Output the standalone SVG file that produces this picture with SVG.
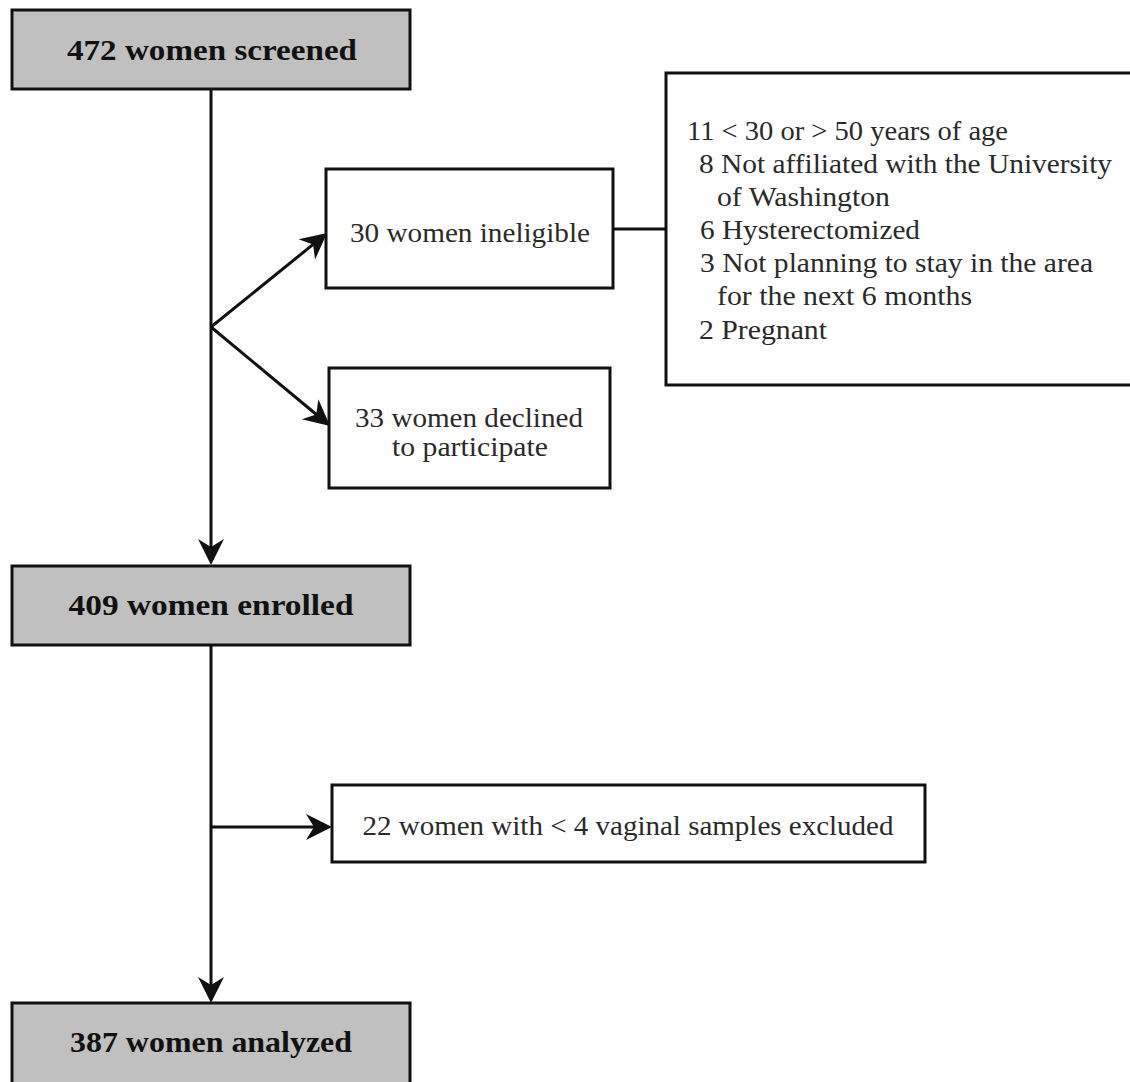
<svg xmlns="http://www.w3.org/2000/svg" width="1130" height="1082" viewBox="0 0 1130 1082">
<style>
.gray{fill:#c0c0c0;stroke:#111;stroke-width:3}
.white{fill:#fff;stroke:#111;stroke-width:3}
.hdr{font-family:"Liberation Serif","Times New Roman",serif;font-weight:bold;font-size:29px;fill:#111;text-anchor:middle}
.txt{font-family:"Liberation Serif","Times New Roman",serif;font-size:27px;fill:#2a2a2a}
.mid{text-anchor:middle}
.conn{stroke:#111;stroke-width:3;fill:none}
</style>
<defs>
<marker id="arr" markerUnits="userSpaceOnUse" viewBox="-2 -15 30 30" markerWidth="30" markerHeight="30" refX="16" refY="0" orient="auto">
<path d="M26,0 L0,-13 L8,0 L0,13 Z" fill="#111"/>
</marker>
</defs>
<rect width="1130" height="1082" fill="#fff"/>
<g id="connectors">
<line class="conn" x1="211" y1="89" x2="211" y2="555" marker-end="url(#arr)"/>
<line class="conn" x1="211" y1="327" x2="319.3" y2="239.4" marker-end="url(#arr)"/>
<line class="conn" x1="211" y1="327" x2="322.4" y2="419.5" marker-end="url(#arr)"/>
<line class="conn" x1="613" y1="229" x2="666" y2="229"/>
<line class="conn" x1="211" y1="645" x2="211" y2="993" marker-end="url(#arr)"/>
<line class="conn" x1="211" y1="827" x2="322" y2="827" marker-end="url(#arr)"/>
</g>
<g id="screened">
<rect class="gray" x="12" y="10" width="398" height="79"/>
<text class="hdr" x="212" y="60" textLength="290" lengthAdjust="spacingAndGlyphs">472 women screened</text>
</g>
<g id="ineligible">
<rect class="white" x="326" y="169" width="287" height="119"/>
<text class="txt mid" x="470" y="242" textLength="240" lengthAdjust="spacingAndGlyphs">30 women ineligible</text>
</g>
<g id="reasons">
<rect class="white" x="666" y="73" width="480" height="312"/>
<text class="txt" x="687" y="140" textLength="321" lengthAdjust="spacingAndGlyphs">11 &lt; 30 or &gt; 50 years of age</text>
<text class="txt" x="699" y="173" textLength="413" lengthAdjust="spacingAndGlyphs">8 Not affiliated with the University</text>
<text class="txt" x="717" y="206" textLength="173" lengthAdjust="spacingAndGlyphs">of Washington</text>
<text class="txt" x="700" y="239" textLength="220" lengthAdjust="spacingAndGlyphs">6 Hysterectomized</text>
<text class="txt" x="700" y="272" textLength="393" lengthAdjust="spacingAndGlyphs">3 Not planning to stay in the area</text>
<text class="txt" x="717" y="305" textLength="255" lengthAdjust="spacingAndGlyphs">for the next 6 months</text>
<text class="txt" x="699" y="339" textLength="128" lengthAdjust="spacingAndGlyphs">2 Pregnant</text>
</g>
<g id="declined">
<rect class="white" x="329" y="368" width="281" height="120"/>
<text class="txt mid" x="469" y="427" textLength="228" lengthAdjust="spacingAndGlyphs">33 women declined</text>
<text class="txt mid" x="470" y="456" textLength="156" lengthAdjust="spacingAndGlyphs">to participate</text>
</g>
<g id="enrolled">
<rect class="gray" x="12" y="566" width="398" height="79"/>
<text class="hdr" x="211" y="615" textLength="285" lengthAdjust="spacingAndGlyphs">409 women enrolled</text>
</g>
<g id="excluded">
<rect class="white" x="332" y="785" width="593" height="77"/>
<text class="txt mid" x="628" y="835" textLength="531" lengthAdjust="spacingAndGlyphs">22 women with &lt; 4 vaginal samples excluded</text>
</g>
<g id="analyzed">
<rect class="gray" x="12" y="1003" width="398" height="90"/>
<text class="hdr" x="211" y="1052" textLength="282" lengthAdjust="spacingAndGlyphs">387 women analyzed</text>
</g>
</svg>
